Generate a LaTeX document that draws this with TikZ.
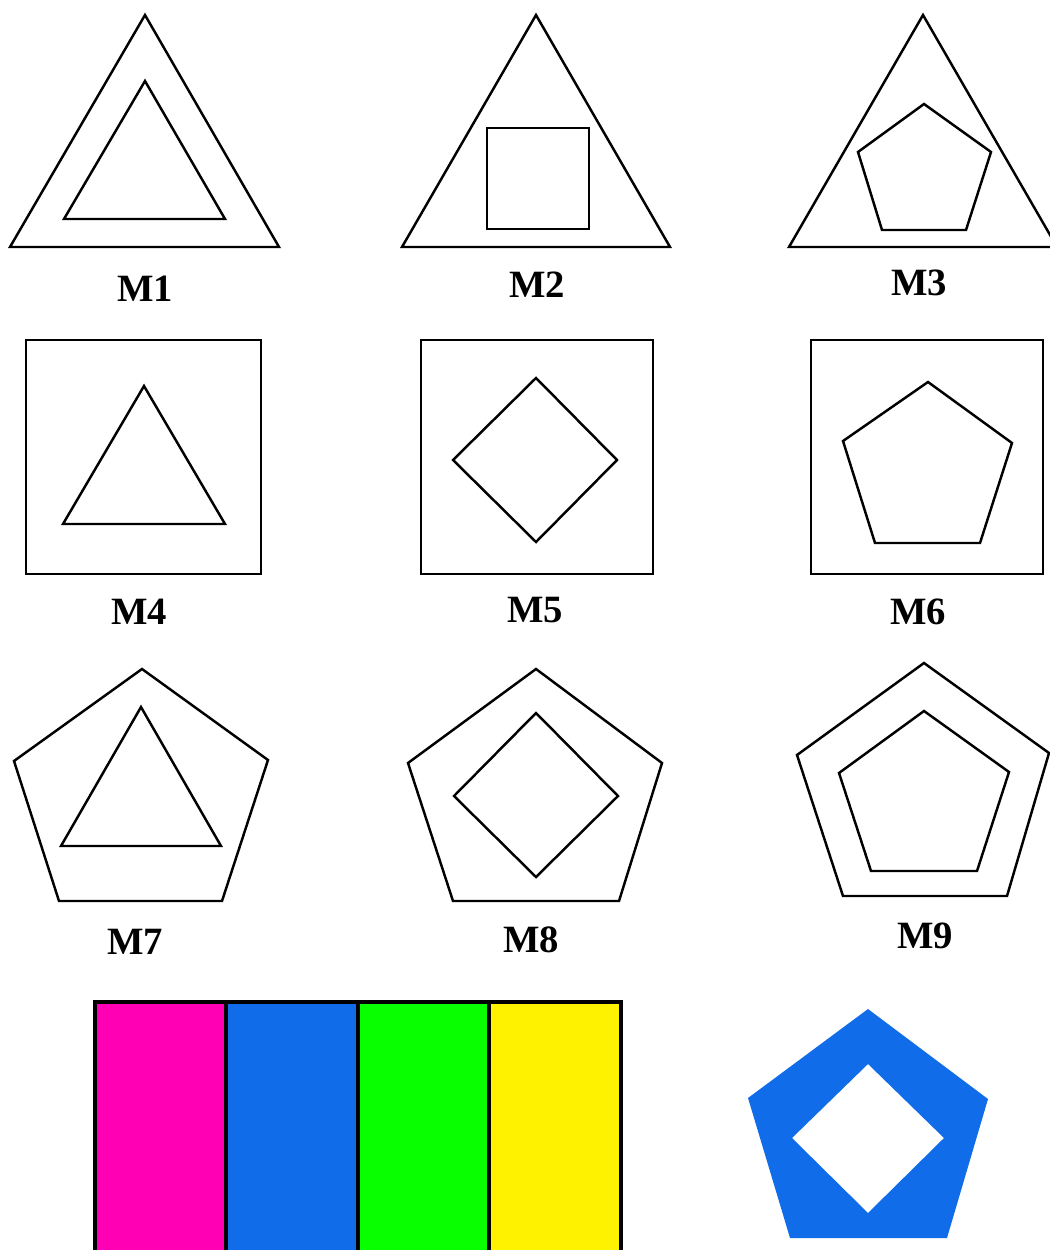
\documentclass[tikz,border=0pt]{standalone}
\usepackage{fontspec}
\setmainfont{Liberation Serif}
\usetikzlibrary{positioning}

\definecolor{barmagenta}{RGB}{255,0,180}
\definecolor{barblue}{RGB}{16,108,232}
\definecolor{bargreen}{RGB}{8,255,0}
\definecolor{baryellow}{RGB}{255,242,0}

\tikzset{
    outline/.style={draw=black, line width=1.4pt, line join=miter},
    mlabel/.style={font=\fontsize{22}{26}\selectfont\bfseries, inner sep=0pt},
    bar/.style={draw=black, line width=1.8pt}
}

\begin{document}
\begin{tikzpicture}[x=0.02cm, y=-0.02cm]
    % Page frame
    \useasboundingbox (0,0) rectangle (1049,1250);

    % Row 1: triangles
    \draw[outline] (145,15) -- (279,247) -- (10,247) -- cycle;
    \draw[outline] (145,81) -- (225,219) -- (64,219) -- cycle;
    \node[mlabel] (M1) at (145,289) {M1};

    \draw[outline] (536,15) -- (670,247) -- (402,247) -- cycle;
    \draw[outline] (487,128) rectangle (589,229);
    \node[mlabel] (M2) at (537,285) {M2};

    \draw[outline] (923,15) -- (1057,247) -- (789,247) -- cycle;
    \draw[outline] (924,104) -- (991,152) -- (966,230) -- (882,230) -- (858,152) -- cycle;
    \node[mlabel] (M3) at (919,283) {M3};

    % Row 2: squares
    \draw[outline] (26,340) rectangle (261,574);
    \draw[outline] (144,386) -- (225,524) -- (63,524) -- cycle;
    \node[mlabel] (M4) at (139,612) {M4};

    \draw[outline] (421,340) rectangle (653,574);
    \draw[outline] (536,378) -- (617,460) -- (536,542) -- (453,460) -- cycle;
    \node[mlabel] (M5) at (535,610) {M5};

    \draw[outline] (811,340) rectangle (1043,574);
    \draw[outline] (928,382) -- (1012,443) -- (980,543) -- (875,543) -- (843,441) -- cycle;
    \node[mlabel] (M6) at (918,612) {M6};

    % Row 3: pentagons
    \draw[outline] (142,669) -- (268,760) -- (222,901) -- (59,901) -- (14,761) -- cycle;
    \draw[outline] (141,707) -- (221,846) -- (61,846) -- cycle;
    \node[mlabel] (M7) at (135,942) {M7};

    \draw[outline] (536,669) -- (662,763) -- (619,901) -- (453,901) -- (408,763) -- cycle;
    \draw[outline] (536,713) -- (618,796) -- (536,877) -- (454,796) -- cycle;
    \node[mlabel] (M8) at (531,940) {M8};

    \draw[outline] (924,663) -- (1049,753) -- (1007,896) -- (843,896) -- (797,755) -- cycle;
    \draw[outline] (924,711) -- (1009,772) -- (977,871) -- (871,871) -- (839,773) -- cycle;
    \node[mlabel] (M9) at (925,936) {M9};

    % Colour bars
    \draw[bar, fill=barmagenta] (95,1002) rectangle (226,1262);
    \draw[bar, fill=barblue] (226,1002) rectangle (358,1262);
    \draw[bar, fill=bargreen] (358,1002) rectangle (489,1262);
    \draw[bar, fill=baryellow] (489,1002) rectangle (621,1262);

    % Filled pentagon with diamond hole
    \fill[barblue, even odd rule]
        (868,1009) -- (988,1099) -- (947,1238) -- (790,1238) -- (748,1098) -- cycle
        (868,1064) -- (944,1138) -- (868,1213) -- (792,1138) -- cycle;
\end{tikzpicture}
\end{document}
